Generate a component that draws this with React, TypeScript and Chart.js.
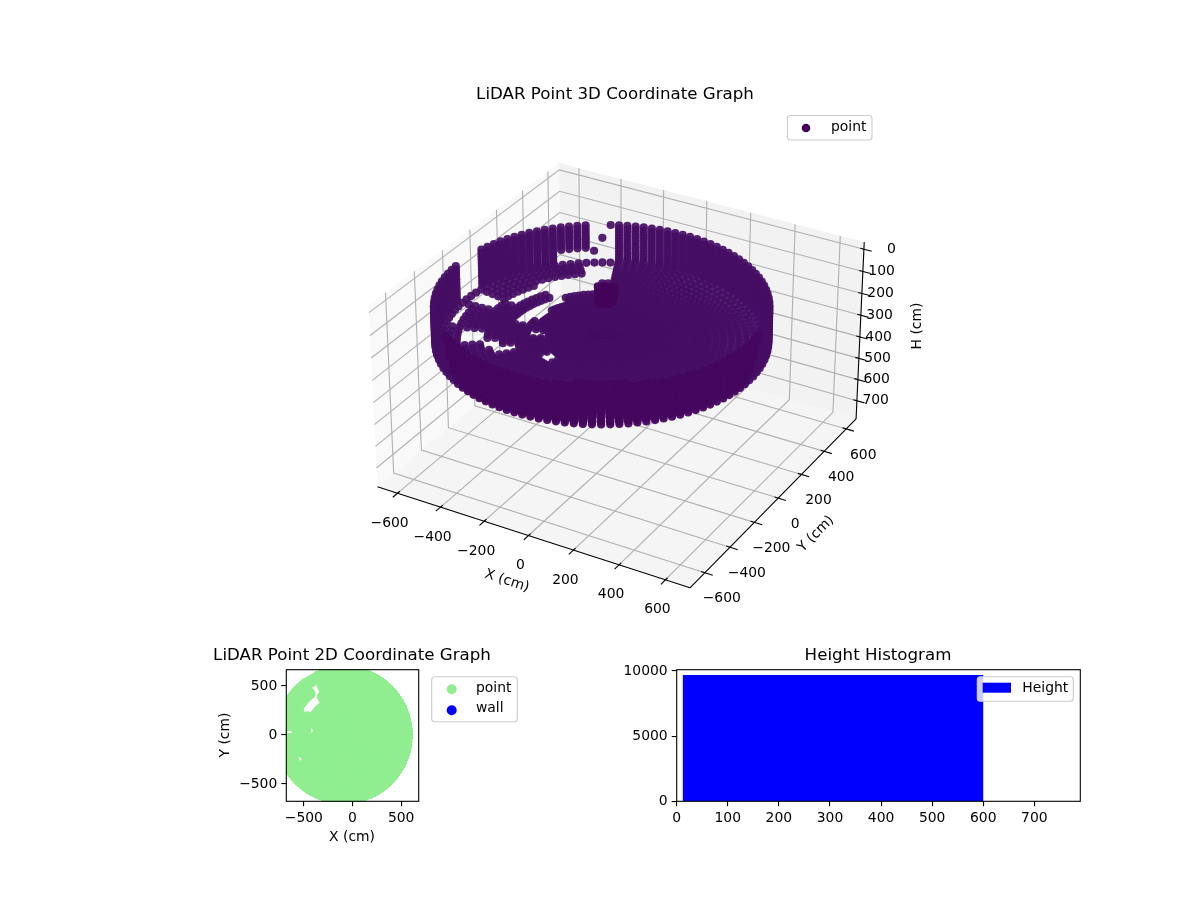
import React, { useEffect, useRef } from 'react'
import Chart from 'chart.js/auto'

const FONT = '"DejaVu Sans"'
const TICK_SIZE = 13.9
const TITLE_SIZE = 16.67

// 3D axes
const xTicks3d = [-600, -400, -200, 0, 200, 400, 600]
const yTicks3d = [-600, -400, -200, 0, 200, 400, 600]
const hTicks3d = [0, 100, 200, 300, 400, 500, 600, 700]
const xLimits3d = [-695, 705]
const yLimits3d = [-715, 690]
const hLimits3d = [-32, 787]

// scan: azimuth in degrees, range in cm around the room centre
const roomCentre = [-90, 0]
const wallRange = 655
const scanAzimuths = [
  0, 3, 6, 9, 12, 15, 18, 21, 24, 27, 30, 33, 36, 39, 42, 45, 48, 51, 54, 57, 60, 63, 66, 69,
  72, 75, 78, 81, 84, 87, 90, 93, 96, 99, 102, 105, 108, 111, 114, 117, 120, 123, 126, 129,
  132, 135, 138, 141, 144, 147, 150, 153, 156, 159, 162, 165, 168, 171, 174, 177, 180, 183,
  186, 189, 192, 195, 198, 201, 204, 207, 210, 213, 216, 219, 222, 225, 228, 231, 234, 237,
  240, 243, 246, 249, 252, 255, 258, 261, 264, 267, 270, 273, 276, 279, 282, 285, 288, 291,
  294, 297, 300, 303, 306, 309, 312, 315, 318, 321, 324, 327, 330, 333, 336, 339, 342, 345,
  348, 351, 354, 357,
]
const wallHeights = [130, 145, 160, 175, 190, 205, 220, 235, 250, 265, 280, 292]
const floorHeight = 292
const floorRanges = [
  30, 60, 90, 120, 150, 180, 210, 240, 270, 300, 330, 360, 390, 420, 450, 480, 510, 540, 570,
  600, 630,
]
// holes in the floor: azimuth from, azimuth to, range from, range to
const floorHoles = [
  [122, 152, 370, 530],
  [116, 128, 470, 610],
  [152, 172, 425, 485],
  [146, 163, 305, 385],
  [163, 181, 295, 375],
  [174, 180, 500, 610],
  [186, 198, 585, 625],
  [204, 214, 475, 545],
  [219, 227, 355, 425],
  [198, 207, 225, 275],
  [238, 252, 235, 295],
  [212, 221, 405, 455],
  [183, 189, 320, 365],
]
// holes in the wall: azimuth from, azimuth to, height from, height to
const wallHoles = [
  [171, 180, 100, 300],
  [116, 118, 140, 300],
  [119, 121, 100, 175],
  [119, 121, 205, 300],
  [122, 124, 100, 235],
  [122, 124, 265, 300],
  [125, 136, 250, 300],
]
// the darker lump standing on the floor behind the centre
const lumpAzimuths = [111, 114, 117, 120, 123]
const lumpRanges = [240, 270, 300, 330]
const lumpHeights = [240, 265, 290]

// 2D panel
const xTicks2d = [-500, 0, 500]
const yTicks2d = [-500, 0, 500]
const wallSeries2d: { x: number; y: number }[] = []

// histogram
const histEdges = [12, 600]
const histCounts = [9693]
const histXTicks = [0, 100, 200, 300, 400, 500, 600, 700]
const histYTicks = [0, 5000, 10000]

const minusLabel = (v: number | string) => String(v).replace('-', '\u2212')

const inHole = (a: number, b: number, holes: number[][]) =>
  holes.some(([a0, a1, b0, b1]) => a >= a0 && a <= a1 && b >= b0 && b <= b1)

const polar = (az: number, r: number) => {
  const t = (az * Math.PI) / 180
  return [roomCentre[0] + r * Math.cos(t), roomCentre[1] + r * Math.sin(t)]
}

const wallCloud: number[][] = []
scanAzimuths.forEach((az) => {
  wallHeights.forEach((h) => {
    if (inHole(az, h, wallHoles)) return
    const [x, y] = polar(az, wallRange)
    wallCloud.push([x, y, h])
  })
})
const floorCloud: number[][] = []
scanAzimuths.forEach((az) => {
  floorRanges.forEach((r) => {
    if (inHole(az, r, floorHoles)) return
    const [x, y] = polar(az, r)
    floorCloud.push([x, y, floorHeight])
  })
})
const lumpCloud: number[][] = []
lumpAzimuths.forEach((az) => {
  lumpRanges.forEach((r) => {
    lumpHeights.forEach((h) => {
      const [x, y] = polar(az, r)
      lumpCloud.push([x, y, h])
    })
  })
})
const cloud = [...wallCloud, ...floorCloud, ...lumpCloud]

// matplotlib's view for elev 30, azim -60, with the box
const BOX = 1.19
const BOX_H = 0.7
const project = (x: number, y: number, h: number) => {
  const rx = ((x - xLimits3d[0]) / (xLimits3d[1] - xLimits3d[0]) - 0.5) * BOX
  const ry = ((y - yLimits3d[0]) / (yLimits3d[1] - yLimits3d[0]) - 0.5) * BOX
  const rz = -0.446 + (BOX_H * (hLimits3d[1] - h)) / (hLimits3d[1] - hLimits3d[0])
  const u = 0.866 * rx + 0.5 * ry
  const v = -0.25 * rx + 0.433 * ry + 0.866 * rz
  const w = 0.433 * rx - 0.75 * ry + 0.5 * rz
  const depth = 10 - w
  return { x: u / depth, y: v / depth, w }
}
const P = (x: number, y: number, h: number) => {
  const p = project(x, y, h)
  return { x: p.x, y: p.y }
}

const [x0, x1] = xLimits3d
const [y0, y1] = yLimits3d
const [hLow, hHigh] = [hLimits3d[1], hLimits3d[0]]

const lineSet = (points: { x: number; y: number }[], color: string, width: number) => ({
  data: points,
  showLine: true,
  borderColor: color,
  borderWidth: width,
  pointRadius: 0,
  fill: false,
})
const paneSet = (points: { x: number; y: number }[], color: string) => ({
  data: points,
  showLine: true,
  borderWidth: 0,
  borderColor: color,
  backgroundColor: color,
  pointRadius: 0,
  fill: 'shape',
})

const GRID = '#b0b0b0'

const build3dDatasets = () => {
  const back: any[] = [
    paneSet([P(x0, y0, hLow), P(x0, y1, hLow), P(x0, y1, hHigh), P(x0, y0, hHigh)], '#f9f9f9'),
    paneSet([P(x0, y1, hLow), P(x1, y1, hLow), P(x1, y1, hHigh), P(x0, y1, hHigh)], '#f2f2f2'),
    paneSet([P(x0, y0, hLow), P(x1, y0, hLow), P(x1, y1, hLow), P(x0, y1, hLow)], '#f5f5f5'),
  ]
  xTicks3d.forEach((t) => back.push(lineSet([P(t, y0, hLow), P(t, y1, hLow), P(t, y1, hHigh)], GRID, 1.1)))
  yTicks3d.forEach((t) => back.push(lineSet([P(x1, t, hLow), P(x0, t, hLow), P(x0, t, hHigh)], GRID, 1.1)))
  hTicks3d.forEach((t) => back.push(lineSet([P(x0, y0, t), P(x0, y1, t), P(x1, y1, t)], GRID, 1.1)))

  back.push(lineSet([P(x0, y0, hLow), P(x1, y0, hLow)], '#000', 1.1))
  back.push(lineSet([P(x1, y0, hLow), P(x1, y1, hLow)], '#000', 1.1))
  back.push(lineSet([P(x1, y1, hLow), P(x1, y1, hHigh)], '#000', 1.1))
  xTicks3d.forEach((t) => back.push(lineSet([P(t, y0 + 16, hLow), P(t, y0 - 34, hLow)], '#000', 1.1)))
  yTicks3d.forEach((t) => back.push(lineSet([P(x1 - 16, t, hLow), P(x1 + 34, t, hLow)], '#000', 1.1)))
  hTicks3d.forEach((t) => back.push(lineSet([P(x1 - 16, y1, t), P(x1 + 34, y1, t)], '#000', 1.1)))

  // far points first, as the 3D scatter sorts them
  const lumpStart = wallCloud.length + floorCloud.length
  const sorted = cloud
    .map(([x, y, h], i) => ({ ...project(x, y, h), lump: i >= lumpStart }))
    .sort((a, b) => a.w - b.w)
  const colors = sorted.map((p) =>
    p.lump ? 'rgba(68,4,90,0.95)' : p.w > 0.2 ? 'rgba(68,6,94,0.95)' : 'rgba(69,14,100,0.92)',
  )
  back.push({
    label: 'point',
    data: sorted.map((p) => ({ x: p.x, y: p.y })),
    backgroundColor: colors,
    borderColor: colors,
    borderWidth: 0,
    pointRadius: 4.1,
    showLine: false,
  })
  // chart.js paints the first dataset last
  return back.reverse()
}

const drawText = (
  ctx: CanvasRenderingContext2D,
  text: string,
  x: number,
  y: number,
  size = TICK_SIZE,
  align: CanvasTextAlign = 'center',
  rotation = 0,
) => {
  ctx.save()
  ctx.translate(x, y)
  ctx.rotate((rotation * Math.PI) / 180)
  ctx.font = `${size}px ${FONT}`
  ctx.fillStyle = '#000'
  ctx.textAlign = align
  ctx.textBaseline = 'middle'
  ctx.fillText(text, 0, 0)
  ctx.restore()
}

const legendBox = (ctx: CanvasRenderingContext2D, x: number, y: number, w: number, h: number) => {
  ctx.save()
  ctx.beginPath()
  ctx.roundRect(x, y, w, h, 3)
  ctx.fillStyle = 'rgba(255,255,255,0.8)'
  ctx.fill()
  ctx.strokeStyle = '#cccccc'
  ctx.lineWidth = 1.1
  ctx.stroke()
  ctx.restore()
}

const legendDot = (ctx: CanvasRenderingContext2D, x: number, y: number, r: number, color: string) => {
  ctx.save()
  ctx.beginPath()
  ctx.arc(x, y, r, 0, Math.PI * 2)
  ctx.fillStyle = color
  ctx.fill()
  ctx.restore()
}

const framePlugin = {
  id: 'frame',
  afterDatasetsDraw(chart: any) {
    const { ctx, chartArea: a } = chart
    ctx.save()
    ctx.strokeStyle = '#000'
    ctx.lineWidth = 1.1
    ctx.strokeRect(a.left, a.top, a.right - a.left, a.bottom - a.top)
    ctx.restore()
  },
}

// boxSize fixes the room the axis takes, so the plot area lands where the reference has it
const axisStyle = (min: number, max: number, tickValues: number[], boxSize: number) => ({
  type: 'linear' as const,
  min,
  max,
  afterBuildTicks: (scale: any) => {
    scale.ticks = tickValues.map((value) => ({ value }))
  },
  afterFit: (scale: any) => {
    if (scale.isHorizontal()) scale.height = boxSize
    else scale.width = boxSize
  },
  grid: {
    drawOnChartArea: false,
    drawTicks: true,
    tickLength: 5,
    color: '#000',
    lineWidth: 1.1,
  },
  border: { display: false },
  ticks: {
    autoSkip: false,
    maxRotation: 0,
    padding: 4,
    color: '#000',
    font: { family: FONT, size: TICK_SIZE },
    callback: (v: number | string) => minusLabel(v),
  },
})

const config3d = () => ({
  type: 'scatter',
  data: { datasets: build3dDatasets() },
  options: {
    animation: false,
    responsive: false,
    layout: { padding: 0 },
    events: [],
    scales: {
      x: { type: 'linear', display: false, min: -621.3 / 3030, max: (1200 - 621.3) / 3030 },
      y: { type: 'linear', display: false, min: (339.8 - 640) / 3020, max: 339.8 / 3020 },
    },
    plugins: { legend: { display: false }, tooltip: { enabled: false } },
  },
  plugins: [
    {
      id: 'labels3d',
      afterDraw(chart: any) {
        const { ctx, scales } = chart
        const at = (p: { x: number; y: number }) => [
          scales.x.getPixelForValue(p.x),
          scales.y.getPixelForValue(p.y),
        ]
        xTicks3d.forEach((t) => {
          const [px, py] = at(P(t, y0, hLow))
          drawText(ctx, minusLabel(t), px - 8, py + 30)
        })
        yTicks3d.forEach((t) => {
          const [px, py] = at(P(x1, t, hLow))
          drawText(ctx, minusLabel(t), px + 17, py + 26)
        })
        hTicks3d.forEach((t) => {
          const [px, py] = at(P(x1, y1, t))
          drawText(ctx, minusLabel(t), px + 32, py, TICK_SIZE, 'right')
        })
        drawText(ctx, 'X (cm)', 507, 581, TICK_SIZE, 'center', 18)
        drawText(ctx, 'Y (cm)', 816, 534, TICK_SIZE, 'center', -45)
        drawText(ctx, 'H (cm)', 917, 326, TICK_SIZE, 'center', -90)
        drawText(ctx, 'LiDAR Point 3D Coordinate Graph', 615, 95, TITLE_SIZE)
        legendBox(ctx, 787.5, 115.5, 84.5, 24.5)
        legendDot(ctx, 806, 128, 4.3, '#440154')
        drawText(ctx, 'point', 831, 127, TICK_SIZE, 'left')
      },
    },
  ],
})

const config2d = () => ({
  type: 'scatter',
  data: {
    datasets: [
      {
        label: 'wall',
        data: wallSeries2d,
        backgroundColor: '#0000ff',
        pointRadius: 5,
        borderWidth: 0,
      },
      {
        label: 'point',
        data: cloud.map(([x, y]) => ({ x, y })),
        backgroundColor: '#90ee90',
        pointRadius: 5,
        borderWidth: 0,
      },
    ],
  },
  options: {
    animation: false,
    responsive: false,
    events: [],
    layout: { padding: { left: 0, top: 29.7, right: 111.3, bottom: 0 } },
    scales: {
      x: axisStyle(-680, 680, xTicks2d, 48.7),
      y: axisStyle(-676, 666, yTicks2d, 86.3),
    },
    plugins: { legend: { display: false }, tooltip: { enabled: false } },
  },
  plugins: [
    framePlugin,
    {
      id: 'labels2d',
      afterDraw(chart: any) {
        const { ctx } = chart
        drawText(ctx, 'LiDAR Point 2D Coordinate Graph', 152, 16, TITLE_SIZE)
        drawText(ctx, 'X (cm)', 152, 197)
        drawText(ctx, 'Y (cm)', 25, 95, TICK_SIZE, 'center', -90)
        legendBox(ctx, 231.7, 36.7, 85.6, 45)
        legendDot(ctx, 251.7, 49.3, 5, '#90ee90')
        legendDot(ctx, 251.7, 70.3, 5, '#0000ff')
        drawText(ctx, 'point', 276, 48, TICK_SIZE, 'left')
        drawText(ctx, 'wall', 276, 68, TICK_SIZE, 'left')
      },
    },
  ],
})

const configHist = () => ({
  type: 'scatter',
  data: {
    datasets: [
      {
        label: 'Height',
        data: [
          { x: histEdges[0], y: 0 },
          { x: histEdges[0], y: histCounts[0] },
          { x: histEdges[1], y: histCounts[0] },
          { x: histEdges[1], y: 0 },
        ],
        showLine: true,
        fill: 'shape',
        backgroundColor: '#0000ff',
        borderColor: '#0000ff',
        borderWidth: 0,
        pointRadius: 0,
      },
    ],
  },
  options: {
    animation: false,
    responsive: false,
    events: [],
    layout: { padding: { left: 0, top: 29.7, right: 39.7, bottom: 0 } },
    scales: {
      x: axisStyle(0, 790, histXTicks, 48.7),
      y: axisStyle(0, 10100, histYTicks, 56.7),
    },
    plugins: { legend: { display: false }, tooltip: { enabled: false } },
  },
  plugins: [
    framePlugin,
    {
      id: 'labelsHist',
      afterDraw(chart: any) {
        const { ctx } = chart
        drawText(ctx, 'Height Histogram', 258, 16, TITLE_SIZE)
        legendBox(ctx, 357.3, 36.7, 96, 24.6)
        ctx.fillStyle = '#0000ff'
        ctx.fillRect(362.7, 42.7, 28.3, 10)
        drawText(ctx, 'Height', 402.3, 48.5, TICK_SIZE, 'left')
      },
    },
  ],
})

const ChartCanvas = ({ makeConfig, left, top, width, height }: any) => {
  const canvasRef = useRef<HTMLCanvasElement>(null)

  useEffect(() => {
    const canvas = canvasRef.current
    if (!canvas) return
    const chart = new Chart(canvas, makeConfig())
    return () => chart.destroy()
  }, [makeConfig])

  return (
    <canvas
      ref={canvasRef}
      width={width}
      height={height}
      style={{ position: 'absolute', left, top, width, height }}
    />
  )
}

export default function App() {
  return (
    <div style={{ position: 'absolute', left: 0, top: 0, width: 1200, height: 900, background: '#fff' }}>
      <ChartCanvas makeConfig={config3d} left={0} top={0} width={1200} height={640} />
      <ChartCanvas makeConfig={config2d} left={200} top={640} width={330} height={210} />
      <ChartCanvas makeConfig={configHist} left={620} top={640} width={500} height={210} />
    </div>
  )
}
